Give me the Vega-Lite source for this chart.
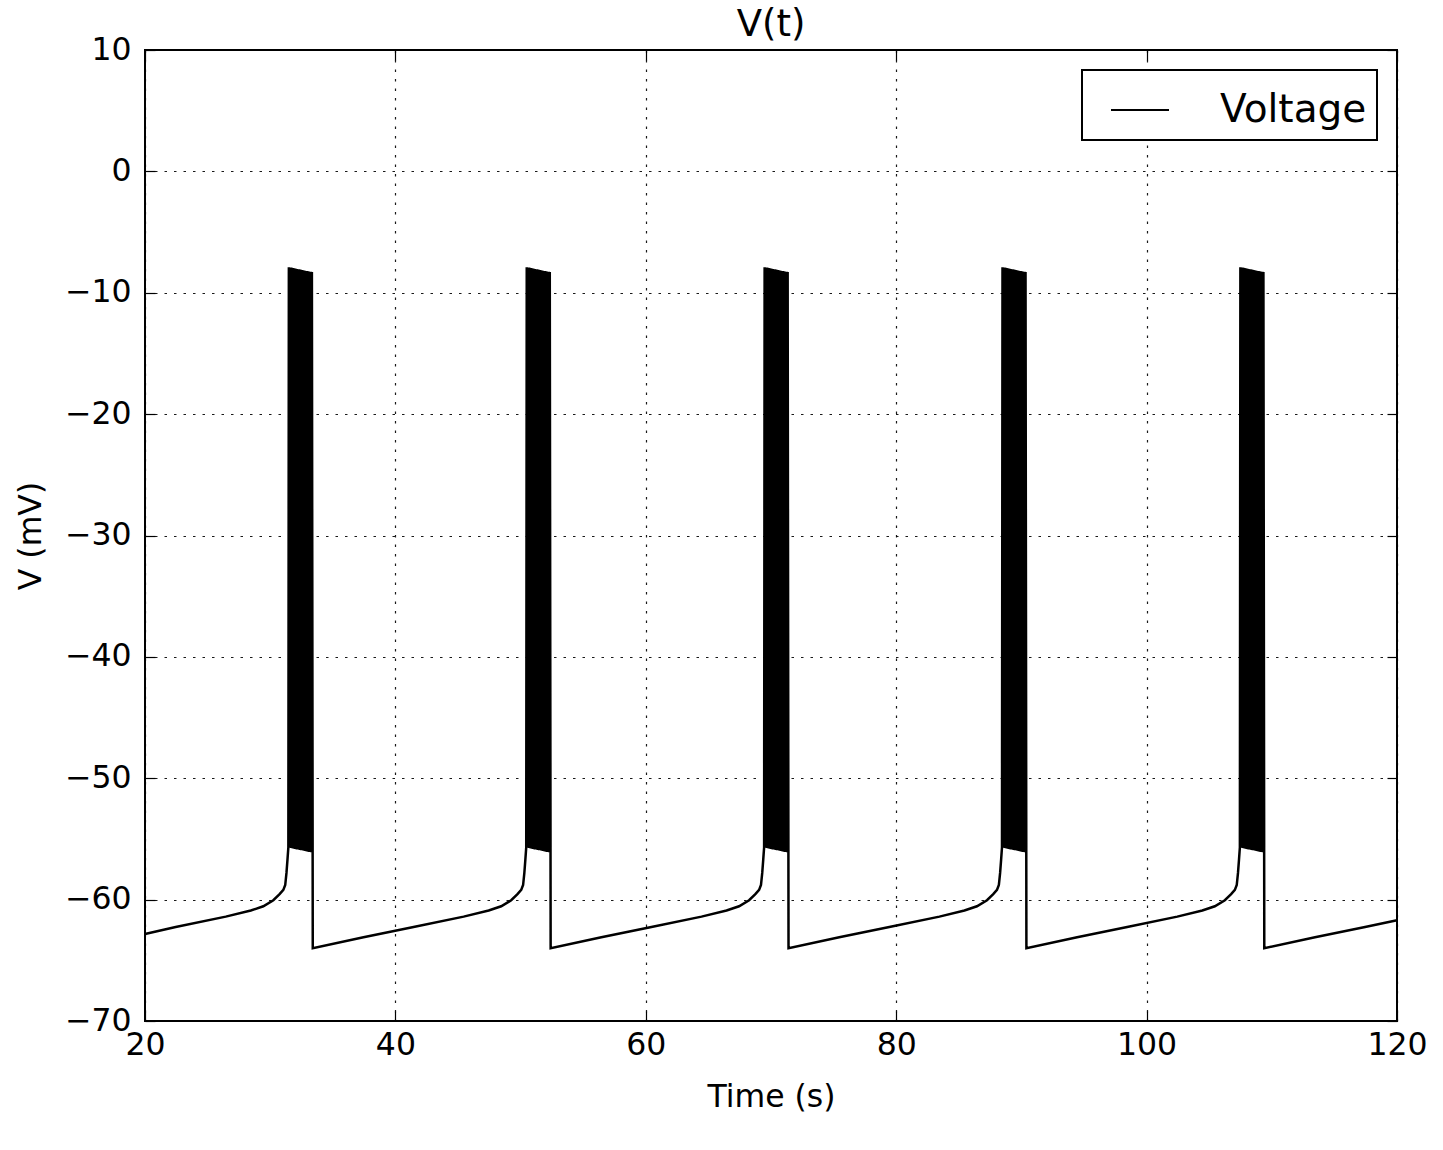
{
"$schema": "https://vega.github.io/schema/vega-lite/v6.json",
"width": 1252, "height": 971,
"autosize": {"type": "none"},
"padding": {"left": 145, "top": 50, "right": 46, "bottom": 129},
"background": "white",
"title": {"text": "V(t)", "fontSize": 37, "font": "DejaVu Sans", "fontWeight": "normal", "offset": -10, "color": "black"},
"config": {
  "font": "DejaVu Sans",
  "view": {"stroke": "black", "strokeWidth": 2},
  "axis": {"domain": false, "labelFlush": false, "labelFont": "DejaVu Sans", "labelFontSize": 31.5, "labelColor": "black", "titleFont": "DejaVu Sans", "titleFontSize": 31.5, "titleFontWeight": "normal", "titleColor": "black", "tickColor": "black", "tickSize": -10, "tickWidth": 1.2, "gridColor": "black", "gridDash": [2.5, 7], "gridWidth": 1.2, "gridOpacity": 0.9},
  "legend": {"orient": "top-right", "offset": 20, "strokeColor": "black", "strokeWidth": 2, "fillColor": "white", "padding": 10, "labelFontSize": 39, "labelFont": "DejaVu Sans", "labelColor": "black", "symbolType": "stroke", "symbolSize": 3364, "symbolStrokeWidth": 2, "symbolOffset": 18, "labelOffset": 50, "cornerRadius": 0}
},
"data": {"values": [
{"t":20,"v":-62.83},{"t":22.45,"v":-62.25},{"t":26.45,"v":-61.4},{"t":28.45,"v":-60.9},{"t":29.45,"v":-60.55},{"t":30.25,"v":-60.05},{"t":30.75,"v":-59.55},{"t":31.05,"v":-59.2},{"t":31.2,"v":-58.8},{"t":31.3,"v":-57.8},{"t":31.38,"v":-56.7},
{"t":31.45,"v":-55.7},{"t":31.49,"v":-7.9},{"t":31.53,"v":-55.72},{"t":31.57,"v":-7.92},{"t":31.61,"v":-55.73},{"t":31.65,"v":-7.93},{"t":31.69,"v":-55.75},{"t":31.73,"v":-7.95},{"t":31.77,"v":-55.77},{"t":31.81,"v":-7.97},{"t":31.85,"v":-55.79},{"t":31.89,"v":-7.99},{"t":31.93,"v":-55.8},{"t":31.97,"v":-8.0},{"t":32.01,"v":-55.82},{"t":32.05,"v":-8.02},{"t":32.09,"v":-55.84},{"t":32.13,"v":-8.04},{"t":32.17,"v":-55.86},{"t":32.21,"v":-8.06},{"t":32.25,"v":-55.87},{"t":32.29,"v":-8.07},{"t":32.33,"v":-55.89},{"t":32.37,"v":-8.09},{"t":32.41,"v":-55.91},{"t":32.45,"v":-8.11},{"t":32.49,"v":-55.93},{"t":32.53,"v":-8.13},{"t":32.57,"v":-55.94},{"t":32.61,"v":-8.14},{"t":32.65,"v":-55.96},{"t":32.69,"v":-8.16},{"t":32.73,"v":-55.98},{"t":32.77,"v":-8.18},{"t":32.81,"v":-56.0},{"t":32.85,"v":-8.2},{"t":32.89,"v":-56.01},{"t":32.93,"v":-8.21},{"t":32.97,"v":-56.03},{"t":33.01,"v":-8.23},{"t":33.05,"v":-56.05},{"t":33.09,"v":-8.25},{"t":33.13,"v":-56.07},{"t":33.17,"v":-8.27},{"t":33.21,"v":-56.08},{"t":33.25,"v":-8.28},{"t":33.29,"v":-56.1},{"t":33.33,"v":-8.3},
{"t":33.4,"v":-64.0},{"t":37.45,"v":-63.1},{"t":41.45,"v":-62.25},{"t":45.45,"v":-61.4},{"t":47.45,"v":-60.9},{"t":48.45,"v":-60.55},{"t":49.25,"v":-60.05},{"t":49.75,"v":-59.55},{"t":50.05,"v":-59.2},{"t":50.2,"v":-58.8},{"t":50.3,"v":-57.8},{"t":50.38,"v":-56.7},
{"t":50.45,"v":-55.7},{"t":50.49,"v":-7.9},{"t":50.53,"v":-55.72},{"t":50.57,"v":-7.92},{"t":50.61,"v":-55.73},{"t":50.65,"v":-7.93},{"t":50.69,"v":-55.75},{"t":50.73,"v":-7.95},{"t":50.77,"v":-55.77},{"t":50.81,"v":-7.97},{"t":50.85,"v":-55.79},{"t":50.89,"v":-7.99},{"t":50.93,"v":-55.8},{"t":50.97,"v":-8.0},{"t":51.01,"v":-55.82},{"t":51.05,"v":-8.02},{"t":51.09,"v":-55.84},{"t":51.13,"v":-8.04},{"t":51.17,"v":-55.86},{"t":51.21,"v":-8.06},{"t":51.25,"v":-55.87},{"t":51.29,"v":-8.07},{"t":51.33,"v":-55.89},{"t":51.37,"v":-8.09},{"t":51.41,"v":-55.91},{"t":51.45,"v":-8.11},{"t":51.49,"v":-55.93},{"t":51.53,"v":-8.13},{"t":51.57,"v":-55.94},{"t":51.61,"v":-8.14},{"t":51.65,"v":-55.96},{"t":51.69,"v":-8.16},{"t":51.73,"v":-55.98},{"t":51.77,"v":-8.18},{"t":51.81,"v":-56.0},{"t":51.85,"v":-8.2},{"t":51.89,"v":-56.01},{"t":51.93,"v":-8.21},{"t":51.97,"v":-56.03},{"t":52.01,"v":-8.23},{"t":52.05,"v":-56.05},{"t":52.09,"v":-8.25},{"t":52.13,"v":-56.07},{"t":52.17,"v":-8.27},{"t":52.21,"v":-56.08},{"t":52.25,"v":-8.28},{"t":52.29,"v":-56.1},{"t":52.33,"v":-8.3},
{"t":52.4,"v":-64.0},{"t":56.45,"v":-63.1},{"t":60.45,"v":-62.25},{"t":64.45,"v":-61.4},{"t":66.45,"v":-60.9},{"t":67.45,"v":-60.55},{"t":68.25,"v":-60.05},{"t":68.75,"v":-59.55},{"t":69.05,"v":-59.2},{"t":69.2,"v":-58.8},{"t":69.3,"v":-57.8},{"t":69.38,"v":-56.7},
{"t":69.45,"v":-55.7},{"t":69.49,"v":-7.9},{"t":69.53,"v":-55.72},{"t":69.57,"v":-7.92},{"t":69.61,"v":-55.73},{"t":69.65,"v":-7.93},{"t":69.69,"v":-55.75},{"t":69.73,"v":-7.95},{"t":69.77,"v":-55.77},{"t":69.81,"v":-7.97},{"t":69.85,"v":-55.79},{"t":69.89,"v":-7.99},{"t":69.93,"v":-55.8},{"t":69.97,"v":-8.0},{"t":70.01,"v":-55.82},{"t":70.05,"v":-8.02},{"t":70.09,"v":-55.84},{"t":70.13,"v":-8.04},{"t":70.17,"v":-55.86},{"t":70.21,"v":-8.06},{"t":70.25,"v":-55.87},{"t":70.29,"v":-8.07},{"t":70.33,"v":-55.89},{"t":70.37,"v":-8.09},{"t":70.41,"v":-55.91},{"t":70.45,"v":-8.11},{"t":70.49,"v":-55.93},{"t":70.53,"v":-8.13},{"t":70.57,"v":-55.94},{"t":70.61,"v":-8.14},{"t":70.65,"v":-55.96},{"t":70.69,"v":-8.16},{"t":70.73,"v":-55.98},{"t":70.77,"v":-8.18},{"t":70.81,"v":-56.0},{"t":70.85,"v":-8.2},{"t":70.89,"v":-56.01},{"t":70.93,"v":-8.21},{"t":70.97,"v":-56.03},{"t":71.01,"v":-8.23},{"t":71.05,"v":-56.05},{"t":71.09,"v":-8.25},{"t":71.13,"v":-56.07},{"t":71.17,"v":-8.27},{"t":71.21,"v":-56.08},{"t":71.25,"v":-8.28},{"t":71.29,"v":-56.1},{"t":71.33,"v":-8.3},
{"t":71.4,"v":-64.0},{"t":75.45,"v":-63.1},{"t":79.45,"v":-62.25},{"t":83.45,"v":-61.4},{"t":85.45,"v":-60.9},{"t":86.45,"v":-60.55},{"t":87.25,"v":-60.05},{"t":87.75,"v":-59.55},{"t":88.05,"v":-59.2},{"t":88.2,"v":-58.8},{"t":88.3,"v":-57.8},{"t":88.38,"v":-56.7},
{"t":88.45,"v":-55.7},{"t":88.49,"v":-7.9},{"t":88.53,"v":-55.72},{"t":88.57,"v":-7.92},{"t":88.61,"v":-55.73},{"t":88.65,"v":-7.93},{"t":88.69,"v":-55.75},{"t":88.73,"v":-7.95},{"t":88.77,"v":-55.77},{"t":88.81,"v":-7.97},{"t":88.85,"v":-55.79},{"t":88.89,"v":-7.99},{"t":88.93,"v":-55.8},{"t":88.97,"v":-8.0},{"t":89.01,"v":-55.82},{"t":89.05,"v":-8.02},{"t":89.09,"v":-55.84},{"t":89.13,"v":-8.04},{"t":89.17,"v":-55.86},{"t":89.21,"v":-8.06},{"t":89.25,"v":-55.87},{"t":89.29,"v":-8.07},{"t":89.33,"v":-55.89},{"t":89.37,"v":-8.09},{"t":89.41,"v":-55.91},{"t":89.45,"v":-8.11},{"t":89.49,"v":-55.93},{"t":89.53,"v":-8.13},{"t":89.57,"v":-55.94},{"t":89.61,"v":-8.14},{"t":89.65,"v":-55.96},{"t":89.69,"v":-8.16},{"t":89.73,"v":-55.98},{"t":89.77,"v":-8.18},{"t":89.81,"v":-56.0},{"t":89.85,"v":-8.2},{"t":89.89,"v":-56.01},{"t":89.93,"v":-8.21},{"t":89.97,"v":-56.03},{"t":90.01,"v":-8.23},{"t":90.05,"v":-56.05},{"t":90.09,"v":-8.25},{"t":90.13,"v":-56.07},{"t":90.17,"v":-8.27},{"t":90.21,"v":-56.08},{"t":90.25,"v":-8.28},{"t":90.29,"v":-56.1},{"t":90.33,"v":-8.3},
{"t":90.4,"v":-64.0},{"t":94.45,"v":-63.1},{"t":98.45,"v":-62.25},{"t":102.45,"v":-61.4},{"t":104.45,"v":-60.9},{"t":105.45,"v":-60.55},{"t":106.25,"v":-60.05},{"t":106.75,"v":-59.55},{"t":107.05,"v":-59.2},{"t":107.2,"v":-58.8},{"t":107.3,"v":-57.8},{"t":107.38,"v":-56.7},
{"t":107.45,"v":-55.7},{"t":107.49,"v":-7.9},{"t":107.53,"v":-55.72},{"t":107.57,"v":-7.92},{"t":107.61,"v":-55.73},{"t":107.65,"v":-7.93},{"t":107.69,"v":-55.75},{"t":107.73,"v":-7.95},{"t":107.77,"v":-55.77},{"t":107.81,"v":-7.97},{"t":107.85,"v":-55.79},{"t":107.89,"v":-7.99},{"t":107.93,"v":-55.8},{"t":107.97,"v":-8.0},{"t":108.01,"v":-55.82},{"t":108.05,"v":-8.02},{"t":108.09,"v":-55.84},{"t":108.13,"v":-8.04},{"t":108.17,"v":-55.86},{"t":108.21,"v":-8.06},{"t":108.25,"v":-55.87},{"t":108.29,"v":-8.07},{"t":108.33,"v":-55.89},{"t":108.37,"v":-8.09},{"t":108.41,"v":-55.91},{"t":108.45,"v":-8.11},{"t":108.49,"v":-55.93},{"t":108.53,"v":-8.13},{"t":108.57,"v":-55.94},{"t":108.61,"v":-8.14},{"t":108.65,"v":-55.96},{"t":108.69,"v":-8.16},{"t":108.73,"v":-55.98},{"t":108.77,"v":-8.18},{"t":108.81,"v":-56.0},{"t":108.85,"v":-8.2},{"t":108.89,"v":-56.01},{"t":108.93,"v":-8.21},{"t":108.97,"v":-56.03},{"t":109.01,"v":-8.23},{"t":109.05,"v":-56.05},{"t":109.09,"v":-8.25},{"t":109.13,"v":-56.07},{"t":109.17,"v":-8.27},{"t":109.21,"v":-56.08},{"t":109.25,"v":-8.28},{"t":109.29,"v":-56.1},{"t":109.33,"v":-8.3},
{"t":109.4,"v":-64.0},{"t":113.45,"v":-63.1},{"t":117.45,"v":-62.25},{"t":120,"v":-61.7}
]},
"layer": [
  {"mark": {"type": "line", "strokeWidth": 2.5},
   "encoding": {
    "x": {"field": "t", "type": "quantitative", "scale": {"domain": [20, 120], "nice": false, "zero": false},
          "axis": {"values": [20, 40, 60, 80, 100, 120], "title": "Time (s)", "grid": true, "labelPadding": 18, "titlePadding": 21}},
    "y": {"field": "v", "type": "quantitative", "scale": {"domain": [-70, 10], "nice": false, "zero": false},
          "axis": {"values": [-70, -60, -50, -40, -30, -20, -10, 0, 10], "title": "V (mV)", "grid": true, "labelPadding": 24, "titlePadding": 17}},
    "color": {"datum": "Voltage", "scale": {"range": ["black"]}, "legend": {"title": null}}
   }},
  {"mark": {"type": "line", "opacity": 0},
   "encoding": {
    "x": {"field": "t", "type": "quantitative", "axis": {"orient": "top", "values": [20, 40, 60, 80, 100, 120], "labels": false, "title": null, "grid": false}},
    "y": {"field": "v", "type": "quantitative", "axis": {"orient": "right", "values": [-70, -60, -50, -40, -30, -20, -10, 0, 10], "labels": false, "title": null, "grid": false}}
   }}
],
"resolve": {"axis": {"x": "independent", "y": "independent"}}
}
